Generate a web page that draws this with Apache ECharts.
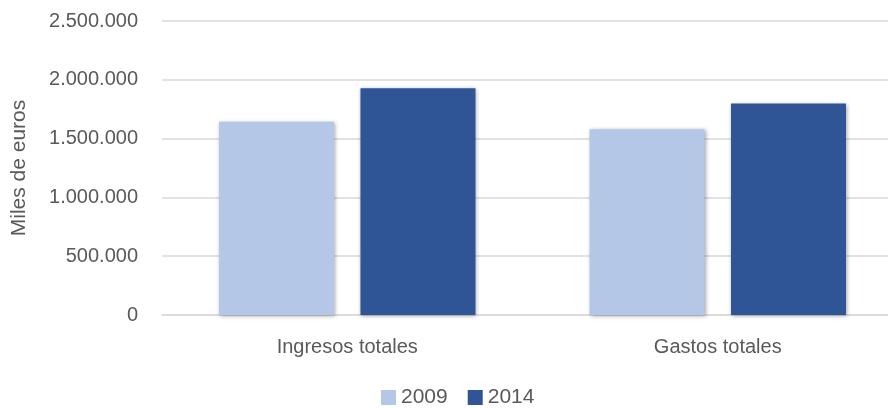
<!DOCTYPE html>
<html>
<head>
<meta charset="utf-8">
<script src="https://cdn.jsdelivr.net/npm/echarts@6/dist/echarts.min.js"></script>
<style>html,body{margin:0;padding:0;background:#fff;}#c{width:888px;height:408px;}</style>
</head>
<body>
<div id="c"></div>
<script>
var categories = ['Ingresos totales', 'Gastos totales'];
var seriesNames = ['2009', '2014'];
var values2009 = [1644000, 1579000];
var values2014 = [1928000, 1798000];
var yTicks = [0, 500000, 1000000, 1500000, 2000000, 2500000];

function fmt(v) {
  return String(v).replace(/\B(?=(\d{3})+(?!\d))/g, '.');
}

var chart = echarts.init(document.getElementById('c'), null, {renderer: 'canvas'});
var shadow = {shadowBlur: 4, shadowColor: 'rgba(0,0,0,0.35)', shadowOffsetX: 1, shadowOffsetY: 1};
chart.setOption({
  animation: false,
  textStyle: {fontFamily: 'Liberation Sans'},
  grid: {left: 162, width: 741, top: 21, bottom: 93, containLabel: false, outerBoundsMode: 'none'},
  legend: {
    bottom: -5, left: 376,
    data: seriesNames,
    icon: 'rect', itemWidth: 15, itemHeight: 15, itemGap: 20,
    textStyle: {color: '#595959', fontSize: 21, padding: [0, 0, 0, 0]}
  },
  xAxis: {
    type: 'category', data: categories,
    axisLine: {lineStyle: {color: '#D9D9D9', width: 1.5}},
    axisTick: {show: false},
    axisLabel: {color: '#595959', fontSize: 20, margin: 22}
  },
  yAxis: {
    type: 'value', min: yTicks[0], max: yTicks[yTicks.length - 1], interval: 500000,
    name: 'Miles de euros', nameLocation: 'middle', nameGap: 132, nameRotate: 90,
    nameTextStyle: {color: '#595959', fontSize: 21},
    axisLine: {show: false}, axisTick: {show: false},
    splitLine: {lineStyle: {color: '#D9D9D9', width: 1.5}},
    axisLabel: {color: '#595959', fontSize: 20, margin: 24, formatter: fmt}
  },
  series: [
    {name: seriesNames[0], type: 'bar', data: values2009, barWidth: 115, barGap: '23%',
     itemStyle: Object.assign({color: '#B4C7E7'}, shadow)},
    {name: seriesNames[1], type: 'bar', data: values2014, barWidth: 115, barGap: '23%',
     itemStyle: Object.assign({color: '#2F5597'}, shadow)}
  ]
});
</script>
</body>
</html>
